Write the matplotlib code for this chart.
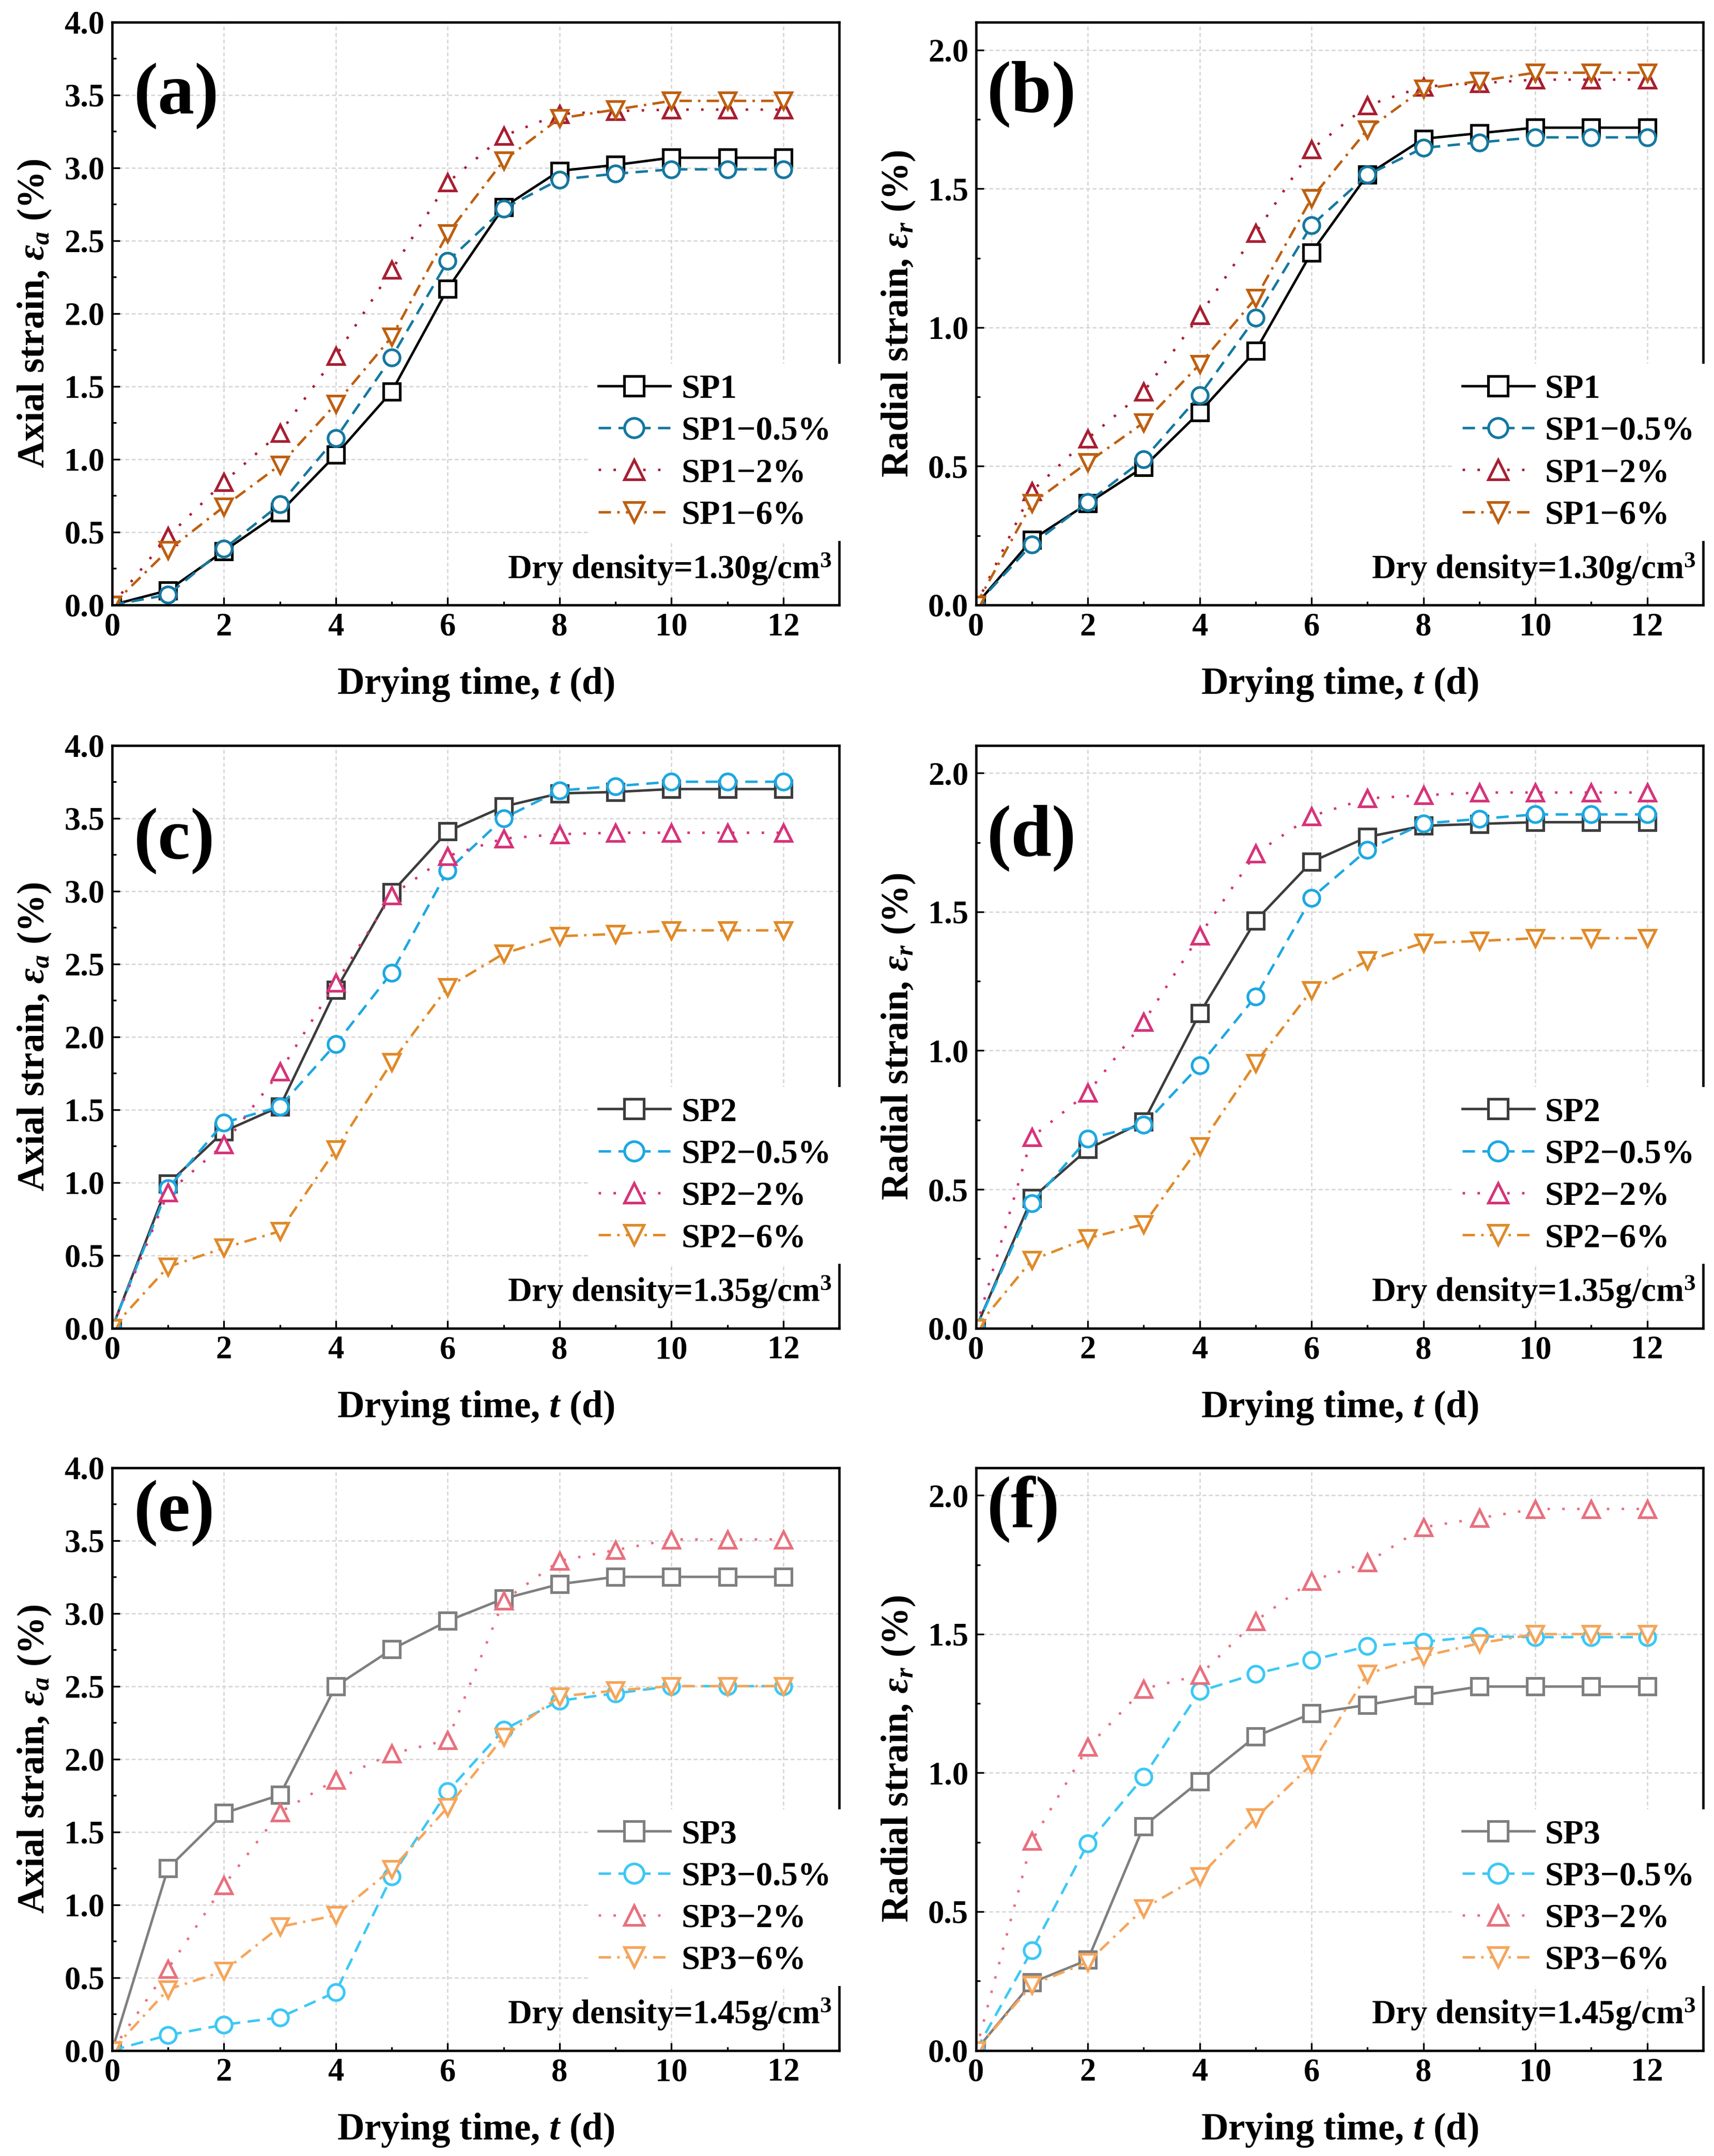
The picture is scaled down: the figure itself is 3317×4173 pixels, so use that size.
import matplotlib
matplotlib.use("Agg")
import matplotlib.pyplot as plt
from matplotlib.ticker import MultipleLocator, FormatStrFormatter

# Fonts: Times-like bold everywhere
plt.rcParams["font.family"] = ["Liberation Serif", "DejaVu Serif"]
plt.rcParams["font.weight"] = "bold"
plt.rcParams["mathtext.fontset"] = "custom"
plt.rcParams["mathtext.rm"] = "Liberation Serif:bold"
plt.rcParams["mathtext.it"] = "Liberation Serif:italic:bold"
plt.rcParams["mathtext.bf"] = "Liberation Serif:bold"

# Drying time (d)
days = list(range(13))

# (a) axial strain, dry density 1.30
sp1_axial = [0, 0.10, 0.37, 0.635, 1.03, 1.465, 2.17, 2.73, 2.98, 3.02, 3.07, 3.07, 3.07]
sp1_05_axial = [0, 0.07, 0.385, 0.69, 1.145, 1.70, 2.36, 2.72, 2.92, 2.96, 2.99, 2.99, 2.99]
sp1_2_axial = [0, 0.47, 0.845, 1.18, 1.71, 2.30, 2.90, 3.22, 3.37, 3.39, 3.40, 3.40, 3.40]
sp1_6_axial = [0, 0.375, 0.675, 0.96, 1.38, 1.84, 2.55, 3.05, 3.34, 3.40, 3.46, 3.46, 3.46]

# (b) radial strain, dry density 1.30
sp1_radial = [0, 0.235, 0.366, 0.497, 0.695, 0.916, 1.27, 1.55, 1.68, 1.70, 1.72, 1.72, 1.72]
sp1_05_radial = [0, 0.218, 0.37, 0.525, 0.755, 1.035, 1.368, 1.55, 1.647, 1.667, 1.685, 1.685, 1.685]
sp1_2_radial = [0, 0.41, 0.60, 0.768, 1.044, 1.34, 1.642, 1.80, 1.868, 1.88, 1.893, 1.893, 1.893]
sp1_6_radial = [0, 0.366, 0.514, 0.657, 0.867, 1.105, 1.466, 1.713, 1.86, 1.888, 1.918, 1.918, 1.918]

# (c) axial strain, dry density 1.35
sp2_axial = [0, 0.99, 1.35, 1.52, 2.32, 2.99, 3.41, 3.58, 3.67, 3.68, 3.70, 3.70, 3.70]
sp2_05_axial = [0, 0.96, 1.41, 1.52, 1.95, 2.44, 3.14, 3.50, 3.69, 3.72, 3.75, 3.75, 3.75]
sp2_2_axial = [0, 0.93, 1.26, 1.76, 2.37, 2.97, 3.24, 3.36, 3.39, 3.40, 3.40, 3.40, 3.40]
sp2_6_axial = [0, 0.42, 0.55, 0.665, 1.225, 1.825, 2.34, 2.57, 2.69, 2.705, 2.73, 2.73, 2.73]

# (d) radial strain, dry density 1.35
sp2_radial = [0, 0.468, 0.645, 0.744, 1.134, 1.468, 1.68, 1.77, 1.81, 1.817, 1.823, 1.823, 1.823]
sp2_05_radial = [0, 0.45, 0.683, 0.732, 0.947, 1.195, 1.55, 1.724, 1.818, 1.835, 1.851, 1.851, 1.851]
sp2_2_radial = [0, 0.688, 0.848, 1.104, 1.415, 1.71, 1.845, 1.909, 1.92, 1.93, 1.93, 1.93, 1.93]
sp2_6_radial = [0, 0.245, 0.324, 0.374, 0.655, 0.955, 1.217, 1.324, 1.388, 1.395, 1.405, 1.405, 1.405]

# (e) axial strain, dry density 1.45
sp3_axial = [0, 1.25, 1.628, 1.753, 2.50, 2.752, 2.947, 3.10, 3.20, 3.25, 3.25, 3.25, 3.25]
sp3_05_axial = [0, 0.104, 0.176, 0.226, 0.40, 1.194, 1.778, 2.20, 2.40, 2.45, 2.50, 2.50, 2.50]
sp3_2_axial = [0, 0.56, 1.134, 1.634, 1.857, 2.036, 2.13, 3.086, 3.36, 3.434, 3.507, 3.507, 3.507]
sp3_6_axial = [0, 0.418, 0.544, 0.848, 0.927, 1.244, 1.668, 2.152, 2.429, 2.47, 2.50, 2.50, 2.50]

# (f) radial strain, dry density 1.45
sp3_radial = [0, 0.244, 0.326, 0.808, 0.97, 1.131, 1.214, 1.245, 1.28, 1.311, 1.311, 1.311, 1.311]
sp3_05_radial = [0, 0.36, 0.745, 0.986, 1.294, 1.357, 1.406, 1.456, 1.472, 1.492, 1.489, 1.489, 1.489]
sp3_2_radial = [0, 0.755, 1.093, 1.303, 1.352, 1.547, 1.692, 1.758, 1.885, 1.918, 1.951, 1.951, 1.951]
sp3_6_radial = [0, 0.236, 0.318, 0.511, 0.627, 0.838, 1.03, 1.357, 1.42, 1.467, 1.50, 1.50, 1.50]

suffixes = ["", "\u22120.5%", "\u22122%", "\u22126%"]
markers = ["s", "o", "^", "v"]
dash_styles = ["-", (0, (5, 3)), (0, (1, 5)), (0, (5, 2.5, 1, 2.5))]

group_colors = {
    "SP1": ["#000000", "#1478a0", "#a81e32", "#be5f0f"],
    "SP2": ["#3c3c3c", "#1ca8e2", "#d6337a", "#e08a28"],
    "SP3": ["#7f7f7f", "#3cc8f5", "#e8707e", "#f5a55a"],
}

panels = [
    ("(a)", "SP1", "axial", [sp1_axial, sp1_05_axial, sp1_2_axial, sp1_6_axial], "1.30", 0.874, 0.030),
    ("(b)", "SP1", "radial", [sp1_radial, sp1_05_radial, sp1_2_radial, sp1_6_radial], "1.30", 0.876, 0.015),
    ("(c)", "SP2", "axial", [sp2_axial, sp2_05_axial, sp2_2_axial, sp2_6_axial], "1.35", 0.836, 0.030),
    ("(d)", "SP2", "radial", [sp2_radial, sp2_05_radial, sp2_2_radial, sp2_6_radial], "1.35", 0.841, 0.015),
    ("(e)", "SP3", "axial", [sp3_axial, sp3_05_axial, sp3_2_axial, sp3_6_axial], "1.45", 0.922, 0.030),
    ("(f)", "SP3", "radial", [sp3_radial, sp3_05_radial, sp3_2_radial, sp3_6_radial], "1.45", 0.929, 0.015),
]

fig = plt.figure(figsize=(3317 / 300, 4173 / 300), dpi=300)

lefts = [0.0654, 0.5694]
bottoms = [0.7194, 0.3840, 0.0490]
width = 0.4242
height = 0.2703

for i, (tag, group, kind, series, density, tag_y, tag_x) in enumerate(panels):
    ax = fig.add_axes([lefts[i % 2], bottoms[i // 2], width, height])
    colors = group_colors[group]

    for values, suffix, mk, ls, col in zip(series, suffixes, markers, dash_styles, colors):
        ax.plot(days, values, linestyle=ls, color=col, linewidth=1.15,
                marker=mk, markersize=7.5, markeredgewidth=1.25,
                markerfacecolor="white", markeredgecolor=col,
                label=group + suffix)

    ax.set_xlim(0, 13)
    ax.xaxis.set_major_locator(MultipleLocator(2))
    ax.xaxis.set_minor_locator(MultipleLocator(1))
    if kind == "axial":
        ax.set_ylim(0, 4.0)
        ax.set_ylabel("Axial strain, $\\varepsilon_a$ (%)", fontsize=17.5, fontweight="bold", labelpad=5)
    else:
        ax.set_ylim(0, 2.1)
        ax.set_ylabel("Radial strain, $\\varepsilon_r$ (%)", fontsize=17.5, fontweight="bold", labelpad=5)
    ax.yaxis.set_major_locator(MultipleLocator(0.5))
    ax.yaxis.set_minor_locator(MultipleLocator(0.25))
    ax.yaxis.set_major_formatter(FormatStrFormatter("%.1f"))
    ax.set_xlabel("Drying time, $t$ (d)", fontsize=17.5, fontweight="bold", labelpad=11)

    ax.tick_params(which="both", direction="in", top=False, right=False, labelsize=15, width=0.8)
    ax.tick_params(which="major", length=3.5)
    ax.tick_params(which="minor", length=1.8)
    for sp in ax.spines.values():
        sp.set_linewidth(1.1)

    # light dashed grid behind the data
    ax.set_axisbelow(True)
    ax.grid(True, which="major", linestyle=(0, (3, 2)), color="#d4d4d4", linewidth=0.6)

    leg = ax.legend(loc="center left", bbox_to_anchor=(0.655, 0.262), fontsize=15.5,
                    frameon=True, facecolor="white", edgecolor="none", framealpha=1,
                    fancybox=False, borderpad=0.3, borderaxespad=0, handlelength=2.15,
                    handletextpad=0.33, labelspacing=0.33, markerscale=1.2)
    for t in leg.get_texts():
        t.set_fontweight("bold")

    ax.text(tag_x, tag_y, tag, transform=ax.transAxes, fontsize=34, fontweight="bold",
            ha="left", va="center")
    ax.text(0.99, 0.062, "Dry density=" + density + "g/cm$^3$", transform=ax.transAxes,
            fontsize=15.5, fontweight="bold", ha="right", va="center")

plt.savefig("out.png", dpi=300)
plt.close()
